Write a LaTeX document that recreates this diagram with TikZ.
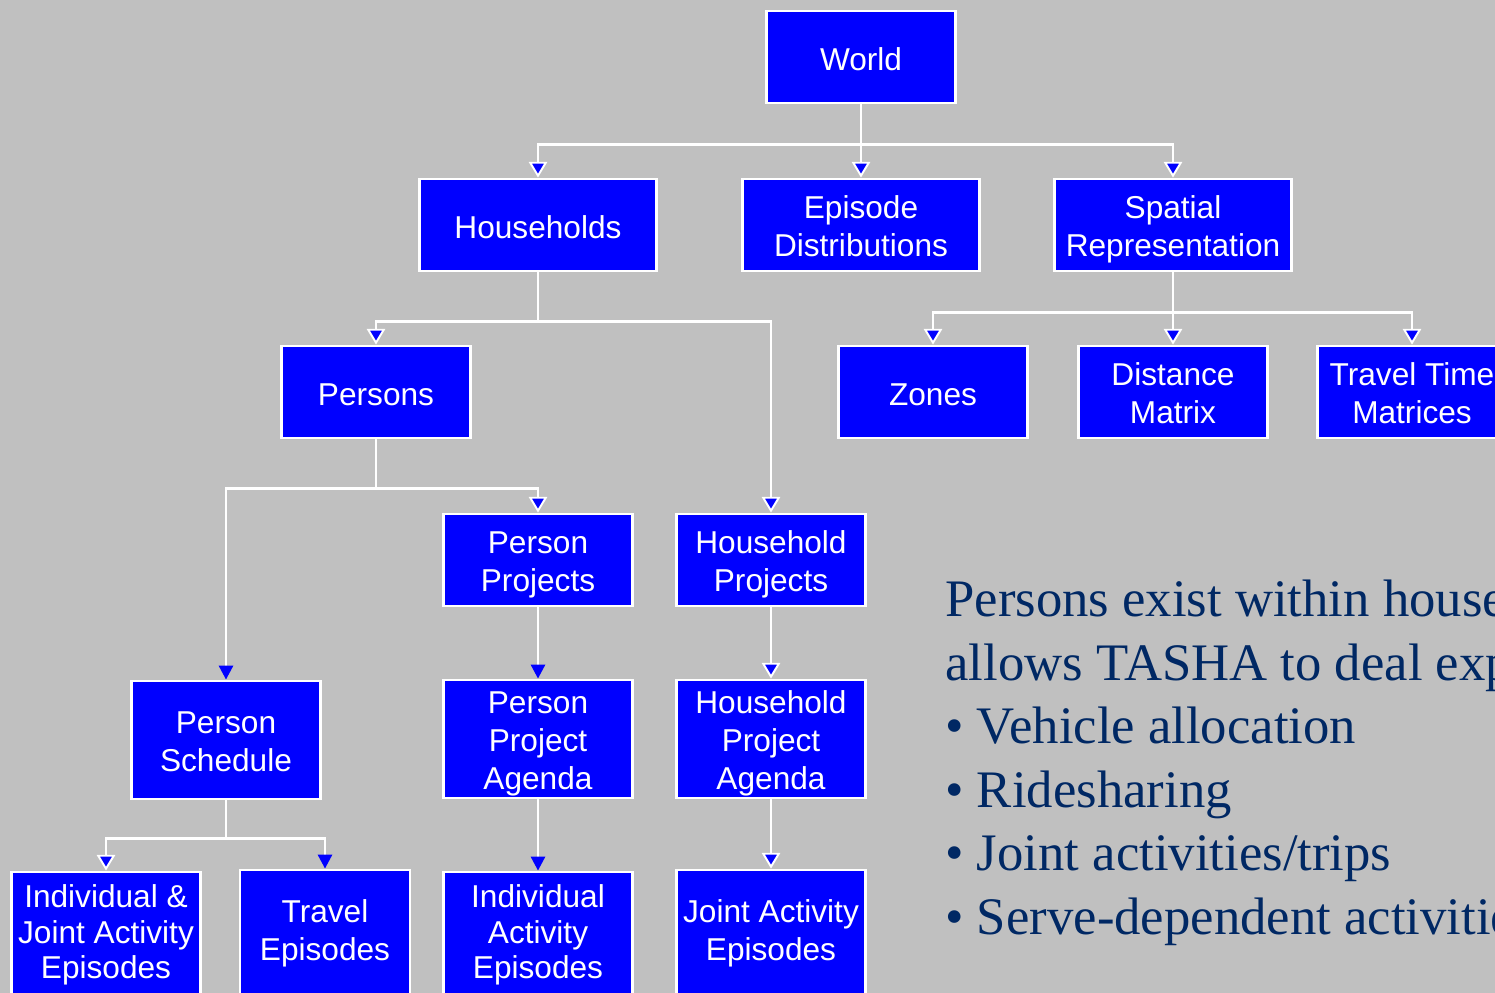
\documentclass[tikz,border=0pt]{standalone}
\usepackage{fontspec}
\setmainfont{Liberation Serif}
\setsansfont{Liberation Sans}
\usetikzlibrary{arrows.meta}
\definecolor{slidegray}{RGB}{192,192,192}
\definecolor{boxblue}{RGB}{0,0,255}
\definecolor{navy}{RGB}{0,40,100}
\newcommand{\boxstrut}{\rule[-3.8pt]{0pt}{23.5pt}}
\newcommand{\topstrut}{\rule{0pt}{18pt}}
\tikzset{
  box/.style={draw=white, line width=1.6pt, fill=boxblue, text=white,
    font=\sffamily\fontsize{18}{21.5}\selectfont, align=center,
    minimum width=3.78cm, minimum height=1.84cm, inner sep=0pt,
    execute at begin node=\boxstrut, execute at end node=\boxstrut},
  wide/.style={minimum width=4.74cm},
  tall/.style={minimum height=2.36cm},
  deep/.style={minimum height=2.52cm},
  tight/.style={font=\sffamily\fontsize{18}{20}\selectfont},
  link/.style={draw=white, line width=1.6pt,
    -{Triangle[width=10.5pt,length=9pt,fill=boxblue,line width=1.1pt]}},
  linkplain/.style={draw=white, line width=1.6pt,
    -{Triangle[width=8pt,length=8pt,fill=boxblue,color=boxblue]}},
}
\begin{document}
\begin{tikzpicture}[x=0.02cm, y=-0.02cm]
  \fill[slidegray] (0,0) rectangle (1495,993);
  \useasboundingbox (0,0) rectangle (1495,993);
  \clip (0,0) rectangle (1495,993);
  % top levels
  \node[box] (world) at (861,57) {World};
  \node[box,wide] (hh) at (538,225) {Households};
  \node[box,wide] (epdist) at (861,225) {\topstrut Episode\\Distributions};
  \node[box,wide] (spatial) at (1173,225) {\topstrut Spatial\\Representation};
  \node[box] (persons) at (376,392) {Persons};
  \node[box] (zones) at (933,392) {Zones};
  \node[box] (distmat) at (1173,392) {\topstrut Distance\\Matrix};
  \node[box] (ttmat) at (1412,392) {\topstrut Travel Time\\Matrices};
  \node[box] (pproj) at (538,560) {\topstrut Person\\Projects};
  \node[box] (hhproj) at (771,560) {\topstrut Household\\Projects};
  \node[box,tall] (psched) at (226,740) {\topstrut Person\\Schedule};
  \node[box,tall] (pagenda) at (538,739) {\topstrut Person\\Project\\Agenda};
  \node[box,tall] (hhagenda) at (771,739) {\topstrut Household\\Project\\Agenda};
  % episodes
  \node[box,deep,tight] (indjoint) at (106,935) {Individual \&\\Joint Activity\\Episodes};
  \node[box,deep,minimum width=3.4cm] (travel) at (325,933) {Travel\\Episodes};
  \node[box,deep,tight] (indact) at (538,935) {Individual\\Activity\\Episodes};
  \node[box,deep] (jointact) at (771,933) {Joint Activity\\Episodes};
  % connectors
  \draw[link] (world.south) -- ++(0,40) -| (hh.north);
  \draw[link] (world.south) -- (epdist.north);
  \draw[link] (world.south) -- ++(0,40) -| (spatial.north);
  \draw[link] (hh.south) -- ++(0,49) -| (persons.north);
  \draw[link] (hh.south) -- ++(0,49) -| (hhproj.north);
  \draw[link] (spatial.south) -- ++(0,40) -| (zones.north);
  \draw[link] (spatial.south) -- (distmat.north);
  \draw[link] (spatial.south) -- ++(0,40) -| (ttmat.north);
  \draw[linkplain] (persons.south) -- ++(0,49) -| (psched.north);
  \draw[link] (persons.south) -- ++(0,49) -| (pproj.north);
  \draw[linkplain] (pproj) -- (pagenda);
  \draw[link] (hhproj) -- (hhagenda);
  \draw[link] (psched.south) -- ++(0,38) -| (indjoint.north);
  \draw[linkplain] (psched.south) -- ++(0,38) -| (travel.north);
  \draw[linkplain] (pagenda) -- (indact);
  \draw[link] (hhagenda) -- (jointact);
  % text
  \node[anchor=north west, inner sep=0pt, align=left, text=navy,
    font=\fontsize{30}{36.1}\selectfont] (note) at (945,580)
    {Persons exist within households which\\
     allows TASHA to deal explicitly with:\\
     • Vehicle allocation\\
     • Ridesharing\\
     • Joint activities/trips\\
     • Serve-dependent activities};
\end{tikzpicture}
\end{document}
